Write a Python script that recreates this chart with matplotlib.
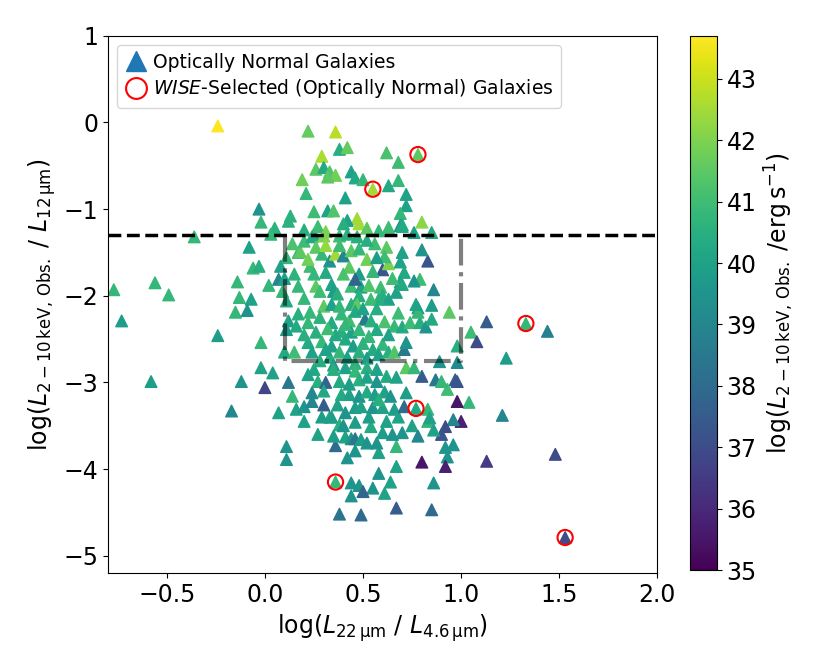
import numpy as np
import matplotlib
matplotlib.use("Agg")
import matplotlib.pyplot as plt
from matplotlib.lines import Line2D

# log(L22um / L4.6um), log(L2-10keV,obs / L12um), log(L2-10keV,obs)
points = [
    # upper part
    (-0.24, -0.04, 43.7), (0.22, -0.10, 41.6), (0.36, -0.11, 42.8), (0.38, -0.31, 40.5),
    (0.42, -0.29, 41.6), (0.29, -0.39, 42.6), (0.62, -0.35, 41.2), (0.78, -0.37, 41.5),
    (0.68, -0.46, 41.0), (0.26, -0.54, 41.5), (0.30, -0.52, 40.3), (0.33, -0.57, 41.3),
    (0.36, -0.61, 41.8), (0.32, -0.63, 41.5), (0.44, -0.57, 40.0), (0.46, -0.64, 40.3),
    (0.50, -0.66, 40.8), (0.55, -0.77, 42.5), (0.19, -0.66, 41.8), (0.63, -0.73, 40.3),
    (0.68, -0.67, 40.8), (0.21, -0.82, 40.8), (0.41, -0.87, 40.0), (0.72, -0.83, 40.0),
    (0.72, -0.96, 40.0), (0.69, -1.05, 40.8), (-0.03, -1.00, 39.5), (-0.02, -1.15, 40.8),
    (0.13, -1.08, 40.6), (0.12, -1.14, 40.6), (0.25, -1.03, 41.0), (0.32, -1.02, 40.0),
    (0.35, -1.02, 41.3), (0.47, -1.11, 42.5), (0.42, -1.13, 40.0), (0.80, -1.15, 42.2),
    (0.69, -1.19, 39.5), (0.70, -1.20, 40.3), (0.63, -1.21, 41.0), (0.48, -1.17, 42.5),
    (0.40, -1.17, 40.5), (0.31, -1.26, 42.0), (0.25, -1.29, 40.0), (0.27, -1.20, 41.0),
    (0.52, -1.22, 41.5), (0.58, -1.25, 40.8), (0.20, -1.24, 40.5), (0.85, -1.27, 40.3),
    (0.05, -1.22, 40.6),
    # left side
    (-0.08, -1.44, 40.0), (-0.06, -1.68, 40.8), (-0.03, -1.66, 40.5), (-0.14, -1.84, 40.8),
    (-0.13, -2.02, 40.8), (-0.07, -2.04, 40.0), (-0.15, -2.19, 40.8), (-0.09, -2.17, 39.5),
    (0.02, -1.88, 40.8), (0.03, -1.29, 40.8), (0.11, -1.56, 40.8), (0.08, -1.66, 40.0),
    (0.07, -1.81, 39.0), (0.10, -1.80, 40.0), (0.09, -1.95, 40.8), (0.11, -2.06, 40.3),
    (0.17, -1.89, 40.8), (0.17, -1.50, 41.0), (-0.36, -1.32, 40.8), (-0.77, -1.93, 40.8),
    (-0.56, -1.85, 40.8), (-0.49, -1.99, 40.8), (-0.73, -2.29, 39.8), (-0.24, -2.46, 39.8),
    (-0.58, -2.99, 39.8), (-0.17, -3.33, 39.0),
    # upper box
    (0.70, -1.18, 40.3), (0.83, -1.60, 37.3), (0.60, -1.70, 37.3), (0.63, -1.63, 42.0),
    (0.80, -1.47, 39.5), (0.79, -1.81, 41.0), (0.86, -1.93, 39.0), (0.94, -2.19, 41.5),
    (0.78, -2.14, 39.8), (0.85, -2.11, 39.8), (0.59, -1.90, 41.0), (0.70, -1.50, 40.0),
    (0.69, -1.61, 40.0), (0.71, -1.73, 40.3), (0.69, -1.84, 40.0), (0.56, -1.40, 41.0),
    (0.62, -1.44, 41.5), (0.61, -1.55, 41.0), (0.76, -1.27, 40.0),
    (0.18, -1.49, 41.5), (0.20, -1.37, 41.0), (0.24, -1.32, 40.3), (0.30, -1.31, 42.0),
    (0.38, -1.31, 41.0), (0.42, -1.29, 40.5), (0.47, -1.32, 40.5), (0.26, -1.44, 41.5),
    (0.29, -1.52, 40.8), (0.33, -1.60, 39.5), (0.36, -1.52, 42.5), (0.40, -1.54, 39.0),
    (0.44, -1.48, 41.5), (0.48, -1.46, 40.8), (0.52, -1.58, 41.8), (0.76, -1.83, 39.5),
    (0.23, -1.66, 41.0), (0.25, -1.75, 40.8), (0.26, -1.89, 41.5), (0.28, -1.95, 41.0),
    (0.31, -1.73, 40.3), (0.34, -1.87, 40.0), (0.35, -1.95, 39.8), (0.43, -1.67, 41.5),
    (0.44, -1.89, 41.0), (0.48, -1.75, 39.8), (0.49, -1.90, 40.0), (0.48, -2.00, 40.5),
    (0.46, -1.81, 37.8), (0.60, -2.00, 40.5), (0.67, -1.96, 40.0), (0.70, -1.87, 40.3),
    (0.63, -2.04, 40.0), (0.58, -2.04, 40.5), (0.54, -2.04, 41.0),
    (0.14, -1.40, 41.2), (0.22, -1.58, 41.8), (0.38, -1.42, 41.0), (0.52, -1.36, 40.5),
    (0.55, -1.72, 40.8), (0.40, -1.75, 41.2), (0.37, -1.98, 40.5), (0.53, -1.88, 41.3),
    (0.15, -1.75, 40.6), (0.20, -2.03, 40.8), (0.65, -1.80, 41.0), (0.57, -1.56, 39.8),
    (0.31, -1.42, 42.3),
    # middle box
    (0.17, -2.21, 40.5), (0.23, -2.19, 40.8), (0.12, -2.29, 40.0), (0.16, -2.35, 40.3),
    (0.22, -2.31, 40.8), (0.11, -2.39, 39.8), (0.26, -2.42, 40.5), (0.29, -2.53, 40.8),
    (0.22, -2.54, 40.3), (0.24, -2.65, 40.0), (0.10, -2.65, 40.3), (0.15, -2.65, 41.0),
    (0.30, -2.12, 41.5), (0.34, -2.10, 40.0), (0.38, -2.12, 40.8), (0.44, -2.10, 40.5),
    (0.47, -2.10, 41.5), (0.34, -2.31, 40.3), (0.39, -2.21, 40.8), (0.43, -2.29, 41.0),
    (0.39, -2.41, 40.5), (0.44, -2.42, 40.0), (0.51, -2.27, 38.5), (0.48, -2.39, 40.8),
    (0.54, -2.29, 40.5), (0.57, -2.39, 40.3), (0.53, -2.47, 40.8), (0.34, -2.58, 40.0),
    (0.38, -2.65, 40.8), (0.41, -2.50, 40.3), (0.45, -2.58, 39.8), (0.48, -2.65, 40.5),
    (0.42, -2.71, 40.0), (0.33, -2.71, 40.5), (0.55, -2.62, 40.3), (0.60, -2.56, 40.8),
    (0.58, -2.68, 40.0), (0.63, -2.65, 40.5), (0.66, -2.35, 40.8), (0.70, -2.36, 40.3),
    (0.74, -2.31, 41.0), (0.79, -2.31, 40.5), (0.82, -2.36, 39.5), (0.85, -2.27, 40.3),
    (0.78, -2.19, 40.8), (0.77, -2.10, 40.0), (0.66, -2.65, 41.3), (0.71, -2.62, 38.5),
    (0.72, -2.54, 39.5),
    (0.28, -2.25, 40.6), (0.36, -2.45, 40.2), (0.50, -2.55, 40.6), (0.41, -2.33, 40.8),
    (0.31, -2.62, 40.0), (0.46, -2.18, 40.3), (0.52, -2.72, 39.8), (0.28, -2.75, 40.4),
    (0.61, -2.30, 41.2), (0.63, -2.45, 40.0), (0.20, -2.45, 40.5), (0.35, -2.80, 39.8),
    (0.46, -2.78, 40.6), (0.68, -2.20, 41.0), (0.57, -2.15, 40.4), (0.32, -2.38, 41.0),
    (0.50, -2.15, 40.0), (0.25, -2.85, 40.2),
    # right side
    (1.05, -2.42, 41.0), (1.08, -2.53, 37.0), (0.98, -2.77, 39.2), (0.89, -2.76, 39.5),
    (0.97, -2.97, 37.5), (0.87, -2.97, 38.5), (0.80, -2.93, 37.5), (1.04, -3.23, 40.8),
    (0.98, -3.22, 35.5), (0.77, -3.30, 40.3), (0.83, -3.31, 40.8), (0.93, -3.08, 41.0),
    (0.00, -3.06, 36.8), (-0.12, -2.99, 39.5), (-0.02, -2.83, 40.0), (0.04, -2.89, 40.0),
    (-0.02, -2.54, 40.8), (0.07, -3.35, 40.0), (0.12, -3.00, 38.5), (1.13, -2.30, 37.5),
    (1.33, -2.32, 40.8), (1.44, -2.41, 38.8), (0.98, -2.58, 40.5), (1.23, -2.72, 39.8),
    (0.90, -2.99, 40.8), (0.98, -2.99, 37.3), (1.21, -3.38, 39.0), (1.13, -3.91, 36.5),
    (1.48, -3.83, 37.0), (1.53, -4.79, 37.0),
    # lower part
    (1.00, -3.45, 35.8), (0.96, -3.43, 39.0), (0.92, -3.51, 37.0), (0.90, -3.60, 37.3),
    (0.83, -3.45, 40.8), (0.86, -3.55, 40.0), (0.92, -3.75, 39.5), (0.96, -3.72, 39.5),
    (0.93, -3.86, 39.5), (0.80, -3.92, 35.5), (0.92, -3.97, 35.8), (0.86, -4.16, 39.5),
    (0.67, -3.97, 40.0), (0.67, -3.74, 40.8), (0.58, -4.05, 39.5), (0.64, -4.15, 40.0),
    (0.61, -4.28, 40.0), (0.55, -4.22, 39.5), (0.48, -4.19, 39.5), (0.50, -4.26, 37.8),
    (0.44, -4.16, 39.5), (0.44, -4.31, 39.5), (0.36, -4.15, 40.8), (0.38, -4.52, 38.3),
    (0.49, -4.53, 38.0), (0.67, -4.45, 37.5), (0.85, -4.47, 38.0), (0.11, -3.74, 39.5),
    (0.11, -3.89, 39.5), (0.27, -3.60, 40.0), (0.36, -3.73, 38.0), (0.42, -3.87, 39.5),
    (0.46, -3.79, 39.5), (0.58, -3.81, 40.0), (0.33, -3.40, 40.3), (0.38, -3.49, 40.5),
    (0.46, -3.46, 39.8), (0.35, -3.62, 39.8), (0.41, -3.63, 40.0), (0.44, -3.65, 39.5),
    (0.46, -3.65, 38.5), (0.49, -3.66, 39.8), (0.52, -3.70, 39.5), (0.57, -3.70, 39.5),
    (0.54, -3.51, 40.3), (0.60, -3.58, 39.8), (0.65, -3.60, 39.5), (0.70, -3.58, 39.5),
    (0.14, -3.16, 40.8), (0.16, -3.31, 40.0), (0.20, -3.28, 39.5), (0.22, -2.91, 40.0),
    (0.27, -2.99, 40.5), (0.24, -3.12, 39.0), (0.24, -3.22, 39.0), (0.31, -3.00, 37.8),
    (0.30, -3.26, 37.5), (0.34, -3.40, 39.8), (0.37, -3.26, 40.0), (0.41, -3.35, 39.5),
    (0.39, -3.14, 40.3), (0.35, -2.85, 40.5), (0.41, -2.83, 40.0), (0.46, -2.87, 40.8),
    (0.52, -2.83, 40.5), (0.57, -2.85, 40.0), (0.38, -2.99, 40.3), (0.43, -3.02, 39.8),
    (0.48, -2.97, 40.5), (0.52, -2.94, 40.0), (0.57, -2.99, 39.5), (0.62, -2.93, 40.3),
    (0.43, -3.14, 40.0), (0.48, -3.16, 39.5), (0.52, -3.11, 40.3), (0.56, -3.14, 39.8),
    (0.61, -3.11, 40.0), (0.64, -3.16, 39.5), (0.46, -3.29, 39.8), (0.49, -3.28, 40.0),
    (0.55, -3.29, 39.5), (0.60, -3.29, 40.0), (0.66, -3.31, 39.8), (0.68, -3.40, 40.0),
    (0.71, -3.28, 38.0), (0.84, -3.41, 40.0), (0.67, -2.94, 40.0), (0.72, -2.83, 41.5),
    (0.76, -2.83, 40.8),
    (0.30, -3.10, 40.2), (0.53, -3.40, 39.8), (0.62, -3.45, 40.0), (0.58, -3.20, 40.5),
    (0.40, -3.50, 39.5), (0.29, -3.40, 39.8), (0.75, -3.50, 40.0), (0.72, -3.12, 39.8),
    (0.20, -3.45, 40.0), (0.78, -3.62, 39.0),
]
x_mir = [p[0] for p in points]
y_ratio = [p[1] for p in points]
log_lx = [p[2] for p in points]

# WISE-selected sources
wise_x = [0.78, 0.55, 1.33, 0.77, 0.36, 1.53]
wise_y = [-0.37, -0.77, -2.32, -3.30, -4.15, -4.79]

cut_y = -1.3
box_x = [0.1, 0.1, 1.0, 1.0]
box_y = [-1.3, -2.75, -2.75, -1.3]

fig = plt.figure(figsize=(8.3, 6.64), dpi=100)
ax = fig.add_axes([0.130, 0.137, 0.662, 0.809])

sc = ax.scatter(x_mir, y_ratio, c=log_lx, cmap="viridis", vmin=35, vmax=43.7,
                marker="^", s=70, zorder=2)
ax.scatter(wise_x, wise_y, s=120, facecolors="none", edgecolors="red",
           linewidths=1.5, zorder=3)

ax.axhline(cut_y, color="k", ls="--", lw=2.5, zorder=4)
ax.plot(box_x, box_y, color="k", ls="-.", lw=3, alpha=0.5, zorder=4)

ax.set_xlim(-0.8, 2.0)
ax.set_ylim(-5.2, 1.0)
ax.set_xticks([-0.5, 0.0, 0.5, 1.0, 1.5, 2.0])
ax.tick_params(labelsize=17)
ax.set_xlabel(r"log($L_{\rm 22\,\mu m}$ / $L_{\rm 4.6\,\mu m}$)", fontsize=17)
ax.set_ylabel(r"log($L_{\rm 2-10\,keV,\,Obs.}$ / $L_{\rm 12\,\mu m}$)", fontsize=17)

handles = [
    Line2D([], [], marker="^", color="C0", ls="none", markersize=15),
    Line2D([], [], marker="o", markerfacecolor="none", markeredgecolor="red",
           markeredgewidth=1.5, ls="none", markersize=15),
]
labels = ["Optically Normal Galaxies",
          r"$\it{WISE}$-Selected (Optically Normal) Galaxies"]
ax.legend(handles, labels, loc="upper left", fontsize=13.5, handletextpad=0.3,
          borderpad=0.4, labelspacing=0.3, handlelength=1.2)

cax = fig.add_axes([690 / 830, 1 - 570 / 664, 27 / 830, 534 / 664])
cb = fig.colorbar(sc, cax=cax)
cb.set_ticks(range(35, 44))
cb.ax.tick_params(labelsize=17)
cb.set_label(r"log($L_{\rm 2-10\,keV,\,Obs.}$ /$\rm erg\,s^{-1}$)", fontsize=17)

fig.savefig("out.png", dpi=100)
